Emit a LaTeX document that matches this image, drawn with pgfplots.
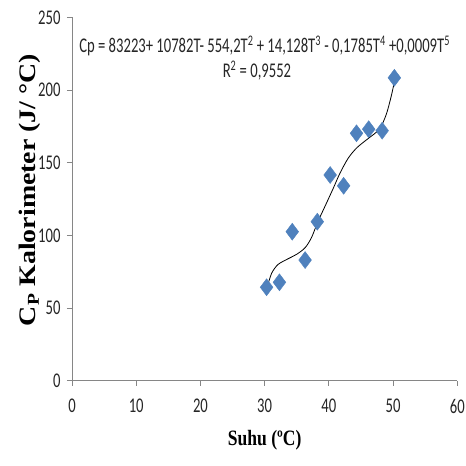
\documentclass[border=0pt]{standalone}
\usepackage{fontspec}
\usepackage{pgfplots}
\pgfplotsset{compat=1.18}
\setmainfont{Carlito}
\newfontfamily\calnarrow[FakeStretch=0.7]{Carlito}
\newfontfamily\tnrnarrow[FakeStretch=0.8]{Liberation Serif}
\newfontfamily\tnr{Liberation Serif}
\definecolor{mkfill}{HTML}{4F81BD}
\definecolor{axgray}{HTML}{868686}

\begin{document}
\begin{tikzpicture}
\useasboundingbox (0bp,0bp) rectangle (466bp,-466bp);
\begin{axis}[
  at={(72bp,-380.7bp)}, anchor=south west,
  width=385.3bp, height=363.4bp, scale only axis,
  xmin=0, xmax=60, ymin=0, ymax=250,
  xtick={0,10,...,60}, ytick={0,50,...,250},
  axis x line=bottom, axis y line=left,
  axis line style={-, axgray, line width=0.8bp},
  tick align=outside, major tick length=5bp,
  tick style={axgray, line width=0.8bp},
  ticklabel style={font=\calnarrow\fontsize{21}{21}\selectfont, text=black!85},
  xticklabel style={yshift=-10bp},
  yticklabel style={xshift=-3bp},
  /pgf/number format/assume math mode=true,
  xlabel={\tnrnarrow\bfseries\fontsize{22}{22}\selectfont Suhu (ºC)},
  xlabel style={at={(axis description cs:0.5,-0.165)}, anchor=center},
  ylabel={\scalebox{1}[0.85]{\tnr\bfseries\fontsize{28}{28}\selectfont C\textsubscript{P} Kalorimeter (J/ °C)}},
  ylabel style={at={(axis description cs:-0.11,0.525)}, anchor=center},
]
\addplot[only marks, mark=diamond*, mark size=8.5bp,
  mark options={fill=mkfill, draw=mkfill}] coordinates {
  (30.3,64.3) (32.3,67.7) (34.3,102.5) (36.3,83.0) (38.2,109.4)
  (40.2,141.5) (42.3,134.1) (44.3,170.2) (46.2,173.0) (48.3,172.0)
  (50.2,208.4)
};
\addplot[black, line width=0.8bp, smooth, tension=0.5] coordinates {
  (30.4,64.5) (31.1,74.0) (32.1,80.0) (33.7,84.0) (35.0,87.0)
  (36.3,91.5) (37.3,98.5) (38.3,109.5) (39.4,120.0) (40.7,132.5)
  (41.7,142.5) (43.0,153.0) (44.3,160.0) (45.8,165.5) (47.4,171.0)
  (48.2,175.5) (49.0,184.0) (49.7,195.5) (50.2,205.5)
};
\node[anchor=base, font=\calnarrow\fontsize{21}{21}\selectfont, text=black!85]
  at (rel axis cs:0.5,0.9018)
  {Cp = 83223+ 10782T- 554,2T\textsuperscript{2} + 14,128T\textsuperscript{3} - 0,1785T\textsuperscript{4} +0,0009T\textsuperscript{5}};
\node[anchor=base, font=\calnarrow\fontsize{21}{21}\selectfont, text=black!85]
  at (rel axis cs:0.48,0.833) {R\textsuperscript{2} = 0,9552};
\end{axis}
\end{tikzpicture}
\end{document}
